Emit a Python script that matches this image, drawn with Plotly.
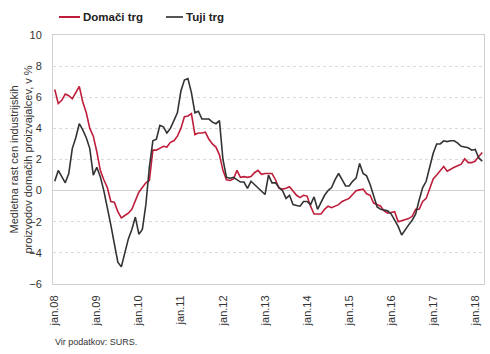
import plotly.graph_objects as go

# ---- data (monthly, jan.2008 .. mar.2018) ----
domaci_trg = [
    6.5, 5.6, 5.8, 6.2, 6.1, 5.9, 6.3, 6.7, 5.7, 5.0, 4.0, 3.5,
    2.5, 1.3, 0.7, 0.2, -0.7, -0.75, -1.35, -1.75, -1.6, -1.45, -1.2, -0.7,
    -0.1, 0.2, 0.5, 0.65, 2.6, 2.6, 2.7, 2.85, 2.8, 3.1, 3.2, 3.5,
    4.0, 4.75, 4.8, 4.95, 3.6, 3.7, 3.7, 3.75, 3.3, 3.0, 2.8, 2.3,
    1.3, 0.7, 0.65, 0.75, 1.3, 0.85, 0.9, 0.85, 0.9, 1.15, 1.3, 1.05,
    1.1, 1.1, 1.1, 0.7, 0.15, 0.1, 0.15, 0.25, 0.0, -0.3, -0.45, -0.3,
    -0.35, -1.0, -1.5, -1.5, -1.5, -1.2, -1.0, -1.1, -1.0, -0.9, -0.7, -0.6,
    -0.5, -0.25, 0.0, 0.05, 0.1, -0.2, -0.3, -0.8, -0.9, -1.0, -1.3, -1.45,
    -1.4, -1.35, -2.0, -1.95, -1.85, -1.8, -1.65, -1.2, -1.2, -0.7, -0.5, 0.2,
    0.75, 1.0, 1.3, 1.55, 1.25, 1.4, 1.5, 1.6, 1.7, 2.05, 1.8, 1.8,
    1.9, 2.2, 2.45,
]
tuji_trg = [
    0.6, 1.3, 0.9, 0.5, 1.1, 2.7, 3.4, 4.3, 3.9, 3.4, 2.7, 1.0,
    1.5, 0.9, 0.0, -1.0, -2.2, -3.4, -4.6, -4.9, -3.9, -3.1, -2.5, -1.7,
    -2.8, -2.5, -0.9, 1.5, 3.2, 3.3, 4.2, 4.1, 3.7, 4.0, 4.5, 5.0,
    6.4, 7.1, 7.2, 6.3, 5.0, 5.1, 4.6, 4.6, 4.6, 4.4, 4.3, 4.5,
    2.0, 0.85, 0.8, 0.85, 0.7, 0.55, 0.55, 0.15, 0.6, 0.4, 0.2, 0.0,
    -0.25, 1.0, 0.5, 0.5, 0.2, 0.0, -0.5, -0.3, -0.9, -0.95, -1.0, -0.7,
    -0.7, -0.9, -0.4, -1.2, -0.7, -0.3, 0.0, 0.2, 0.7, 1.1, 0.7, 0.3,
    0.3, 0.6, 0.8, 1.75, 1.1, 0.95, 0.4, -0.4, -1.05, -1.2, -1.25, -1.3,
    -1.5, -1.9, -2.3, -2.85, -2.5, -2.2, -1.9, -1.5, -0.6, 0.2, 0.6, 1.5,
    2.4, 3.0, 3.0, 3.2, 3.15, 3.2, 3.2, 3.05, 2.85, 2.8, 2.75, 2.6,
    2.65, 2.1, 1.9,
]
years = ["08", "09", "10", "11", "12", "13", "14", "15", "16", "17", "18"]
tick_labels = ["jan." + y for y in years]
series_names = ["Domači trg", "Tuji trg"]
y_title = "Medletna rast cen industrijskih<br>proizvodov domačih proizvajalcev, v %"
source_text = "Vir podatkov: SURS."

RED = "#BE1E3C"
DARK = "#333333"
FONT = "Liberation Sans"

months = list(range(len(domaci_trg)))
tick_vals = [12 * i for i in range(len(tick_labels))]

W, H = 490, 354
L, R, T, B = 53, 6, 35, 70
pw, ph = W - L - R, H - T - B


def px_x(x):
    return (x - L) / pw


def px_y(y):
    return (H - B - y) / ph


fig = go.Figure()
fig.add_trace(go.Scatter(x=months, y=domaci_trg, mode="lines", name=series_names[0],
                         line=dict(color=RED, width=1.6), showlegend=False))
fig.add_trace(go.Scatter(x=months, y=tuji_trg, mode="lines", name=series_names[1],
                         line=dict(color=DARK, width=1.6), showlegend=False))

# manual legend
legend_items = [(59, 80, RED, series_names[0]), (166, 183, "#555555", series_names[1])]
for x0, x1, col, name in legend_items:
    fig.add_shape(type="line", xref="paper", yref="paper",
                  x0=px_x(x0), x1=px_x(x1), y0=px_y(17), y1=px_y(17),
                  line=dict(color=col, width=2))
    fig.add_annotation(text="<b>" + name + "</b>", xref="paper", yref="paper",
                       x=px_x(x1 + 0.5), y=px_y(17), xanchor="left", yanchor="middle",
                       showarrow=False, font=dict(family=FONT, size=11.5, color="#222222"))

fig.add_annotation(text=y_title, xref="paper", yref="paper", x=px_x(20), y=0.5,
                   xanchor="center", yanchor="middle", textangle=-90, showarrow=False,
                   font=dict(family=FONT, size=11, color=DARK))
fig.add_annotation(text=source_text, xref="paper", yref="paper", x=0, y=px_y(342),
                   xanchor="left", yanchor="middle", showarrow=False,
                   font=dict(family=FONT, size=9, color=DARK))

fig.update_layout(
    width=W, height=H,
    margin=dict(l=L, r=R, t=T, b=B, pad=0),
    paper_bgcolor="white", plot_bgcolor="white",
    font=dict(family=FONT, size=11, color=DARK),
)
fig.update_xaxes(
    range=[-0.5, len(months) - 0.5], tickvals=tick_vals, ticktext=tick_labels,
    tickangle=-90, showgrid=False, zeroline=False,
    showline=True, linecolor="#D0D0D0", linewidth=1, mirror=True,
    ticks="", ticklabelstandoff=6, tickfont=dict(size=11, color=DARK),
)
fig.update_yaxes(
    range=[-6, 10], dtick=2, tick0=0,
    showgrid=True, gridcolor="#DADADA", griddash="dot", gridwidth=1,
    zeroline=True, zerolinecolor="#D0D0D0", zerolinewidth=1.2,
    showline=True, linecolor="#D0D0D0", linewidth=1, mirror=True,
    ticks="", ticklabelstandoff=8, tickfont=dict(size=11, color=DARK),
)

fig.write_html("out.html")
